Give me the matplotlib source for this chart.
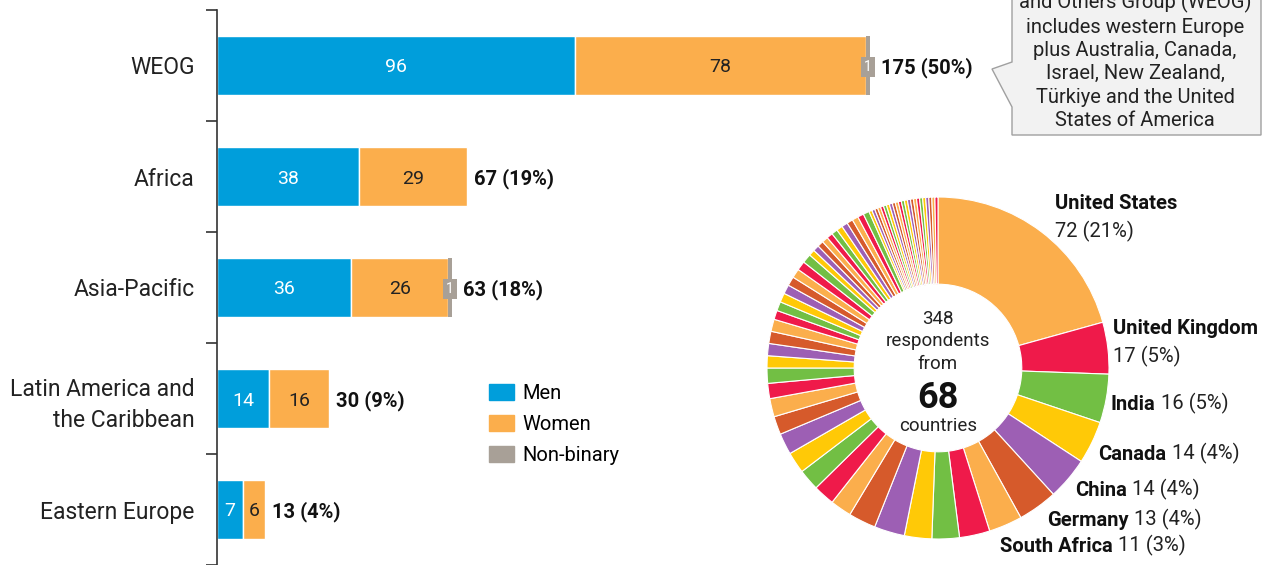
import matplotlib
matplotlib.use("Agg")
import matplotlib.pyplot as plt
from matplotlib.patches import Patch, Polygon
import numpy as np

plt.rcParams['font.family'] = ['Roboto', 'DejaVu Sans']

# ---- data ----
regions = ["WEOG", "Africa", "Asia-Pacific", "Latin America and\nthe Caribbean", "Eastern Europe"]
men = [96, 38, 36, 14, 7]
women = [78, 29, 26, 16, 6]
nonbinary = [1, 0, 1, 0, 0]

countries = ["United States", "United Kingdom", "India", "Canada", "China", "Germany", "South Africa"]
country_counts = [72, 17, 16, 14, 14, 13, 11]
# remaining 61 countries (unlabelled)
other_counts = [10, 9, 9, 10, 9, 7, 7, 7, 7, 7, 6, 6, 5, 5,
                4, 4, 4, 4, 3, 3, 3, 3, 3, 3, 3, 3,
                2, 2, 2, 2, 2, 2, 2, 2, 2, 2, 2, 2,
                1, 1, 1, 1, 1, 1, 1, 1, 1, 1, 1, 1, 1, 1, 1, 1, 1, 1, 1, 1, 1, 1, 1]

C_MEN = "#009edb"
C_WOMEN = "#fbae4c"
C_NB = "#a8a097"
ring_colors = ["#fbae4c", "#ef1a4a", "#72bf44", "#ffc907", "#9d5fb4", "#d65a2b"]

W, H = 1267, 565
fig = plt.figure(figsize=(W / 100, H / 100), dpi=100)


def fx(x):
    return x / W


def fy(y):
    return 1 - y / H


# ---- bar chart ----
ax = fig.add_axes([fx(217), 0, fx(990) - fx(217), fy(10)])
men = np.array(men)
women = np.array(women)
nonbinary = np.array(nonbinary)
totals = men + women + nonbinary
grand = totals.sum()
y = np.arange(len(regions))
bh = 0.54

ax.barh(y, men, height=bh, color=C_MEN, edgecolor="white", linewidth=1)
ax.barh(y, women, left=men, height=bh, color=C_WOMEN, edgecolor="white", linewidth=1)
ax.barh(y, nonbinary, left=men + women, height=bh, color=C_NB, linewidth=0)

for i in range(len(regions)):
    ax.text(men[i] / 2, y[i], str(men[i]), ha="center", va="center_baseline",
            color="white", fontsize=14)
    ax.text(men[i] + women[i] / 2, y[i], str(women[i]), ha="center", va="center_baseline",
            color="#222222", fontsize=14)
    off = 5
    if nonbinary[i] > 0:
        ax.text(men[i] + women[i] + nonbinary[i] / 2, y[i], str(nonbinary[i]), ha="center",
                va="center_baseline", color="white", fontsize=10,
                bbox=dict(boxstyle="square,pad=0.22", fc=C_NB, ec="none"))
        off = 8
    ax.annotate("%d (%d%%)" % (totals[i], round(100 * totals[i] / grand)),
                xy=(totals[i], y[i]), xytext=(off, 0), textcoords="offset points",
                ha="left", va="center_baseline", fontsize=14.5, fontweight="bold",
                color="#111111")

ax.set_ylim(len(regions) - 0.5, -0.5)
ax.set_xlim(0, (990 - 217) / 3.73)
ax.set_yticks(y)
ax.set_yticklabels(regions, fontsize=16.5, color="#222222", linespacing=1.45)
ax.set_yticks(np.arange(len(regions) + 1) - 0.5, minor=True)
ax.tick_params(axis="y", which="major", length=0, pad=16)
ax.tick_params(axis="y", which="minor", length=8, width=1.2, color="#333333")
ax.set_xticks([])
for s in ["top", "right", "bottom"]:
    ax.spines[s].set_visible(False)
ax.spines["left"].set_color("#333333")
ax.spines["left"].set_linewidth(1.2)

handles = [Patch(color=C_MEN, label="Men"), Patch(color=C_WOMEN, label="Women"),
           Patch(color=C_NB, label="Non-binary")]
fig.legend(handles=handles, loc="upper left", bbox_to_anchor=(fx(489), fy(384)),
           frameon=False, fontsize=14.5, handlelength=1.24, handleheight=0.85,
           labelspacing=0.59, handletextpad=0.4, borderpad=0, borderaxespad=0)

# ---- callout ----
box = Polygon([[fx(1012), fy(-40)], [fx(1261), fy(-40)], [fx(1261), fy(135)],
               [fx(1012), fy(135)], [fx(1012), fy(107)], [fx(992), fy(69)],
               [fx(1012), fy(62)]], closed=True, transform=fig.transFigure,
              fc="#f2f2f2", ec="#a0a0a0", lw=1)
fig.patches.append(box)
fig.text(fx(1135), fy(130), "The Western European\nand Others Group (WEOG)\nincludes western Europe\n"
         "plus Australia, Canada,\nIsrael, New Zealand,\nTürkiye and the United\nStates of America",
         ha="center", va="bottom", fontsize=14.5, color="#222222", linespacing=1.29)

# ---- donut ----
R = 171
pax = fig.add_axes([fx(938 - R), fy(368 + R), 2 * R / W, 2 * R / H])
vals = country_counts + other_counts
cols = [ring_colors[i % len(ring_colors)] for i in range(len(vals))]
pax.pie(vals, colors=cols, startangle=90, counterclock=False, radius=1,
        wedgeprops=dict(width=0.51, edgecolor="white", linewidth=0.8))
pax.set_xlim(-1, 1)
pax.set_ylim(-1, 1)
pax.set_aspect("equal")
pax.axis("off")

pax.text(0, 0.30, "%d" % sum(vals), ha="center", va="center_baseline", fontsize=13.5, color="#222222")
pax.text(0, 0.17, "respondents", ha="center", va="center_baseline", fontsize=13.5, color="#222222")
pax.text(0, 0.035, "from", ha="center", va="center_baseline", fontsize=13.5, color="#222222")
pax.text(0, -0.15, "%d" % len(vals), ha="center", va="center_baseline", fontsize=26,
         fontweight="bold", color="#111111")
pax.text(0, -0.33, "countries", ha="center", va="center_baseline", fontsize=13.5, color="#222222")

# labels: (x, y, two_lines)
label_pos = [(1055, 201, True), (1113, 326, True), (1111, 403, False), (1098, 452, False),
             (1075, 489, False), (1047, 518, False), (1000, 545, False)]
for name, cnt, (lx, ly, two) in zip(countries, country_counts, label_pos):
    val = "%d (%d%%)" % (cnt, round(100 * cnt / sum(vals)))
    t = fig.text(fx(lx), fy(ly), name, ha="left", va="center_baseline", fontsize=14.5,
                 fontweight="bold", color="#111111")
    if two:
        fig.text(fx(lx), fy(ly + 28), val, ha="left", va="center_baseline", fontsize=14.5,
                 color="#222222")
    else:
        fig.add_artist(plt.Annotation(val, xy=(1, 0), xycoords=t, xytext=(4, 0),
                                      textcoords="offset points", ha="left", va="bottom",
                                      fontsize=14.5, color="#222222"))

fig.savefig("out.png", dpi=100)
